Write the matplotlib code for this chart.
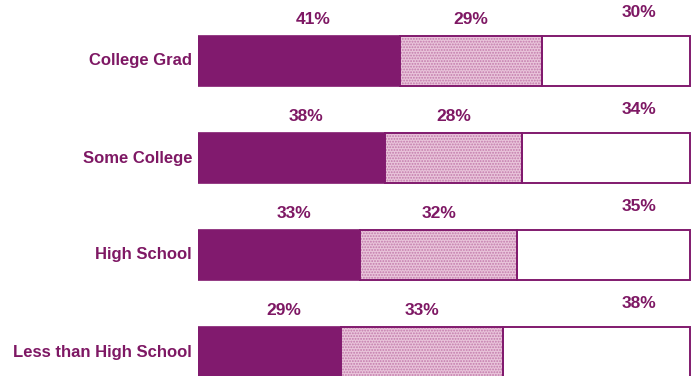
import matplotlib.pyplot as plt
import numpy as np

plt.rcParams['font.family'] = ['Liberation Sans', 'DejaVu Sans']
plt.rcParams['hatch.linewidth'] = 0.9

# Education groups, top to bottom
groups = ["College Grad", "Some College", "High School", "Less than High School"]
# Share of each group in the three response categories (percent)
first = [41, 38, 33, 29]
second = [29, 28, 32, 33]
third = [30, 34, 35, 38]

dark = "#811a6e"
text_color = "#7e1864"
light = "#e9c4da"
dots = "#c27aab"

fig = plt.figure(figsize=(6.91, 3.76), dpi=100)
ax = fig.add_axes([198 / 691, 0, 493 / 691, 1])

y = np.arange(len(groups))
first = np.array(first)
second = np.array(second)
third = np.array(third)
h = 0.515

# filled segments
ax.barh(y, first, height=h, color=dark, edgecolor=dark, linewidth=1.2)
ax.barh(y, second, left=first, height=h, color=light, edgecolor=dots,
        hatch="......", linewidth=0)
ax.barh(y, third, left=first + second, height=h, color="white", linewidth=0)

# outlines on the light and white parts
ax.barh(y, second, left=first, height=h, fill=False, edgecolor=dark, linewidth=1.4)
ax.barh(y, third, left=first + second, height=h, fill=False, edgecolor=dark, linewidth=1.4)

# percent labels above the bars
for i in range(len(groups)):
    top = y[i] - h / 2
    ax.text(first[i] / 2 + 3, top - 0.17, f"{first[i]}%", ha="center", va="center",
            color=text_color, fontsize=12.5, fontweight="bold")
    ax.text(first[i] + second[i] / 2, top - 0.17, f"{second[i]}%", ha="center",
            va="center", color=text_color, fontsize=12.5, fontweight="bold")
    ax.text(89.7, top - 0.24, f"{third[i]}%", ha="center", va="center",
            color=text_color, fontsize=12.5, fontweight="bold")
    ax.text(-1.2, y[i], groups[i], ha="right", va="center", color=text_color,
            fontsize=12, fontweight="bold", clip_on=False)

ax.set_xlim(0, 100.3)
ax.set_ylim((376 - 61) / 97, -61 / 97)
ax.axis("off")

fig.savefig("out.png", dpi=100)
